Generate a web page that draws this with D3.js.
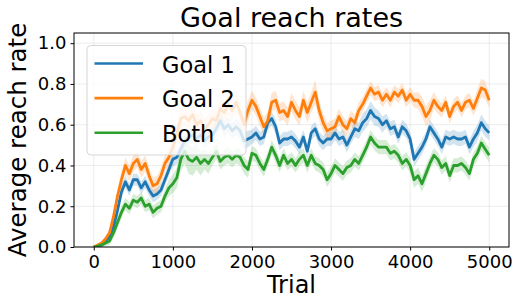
<!DOCTYPE html>
<html>
<head>
<meta charset="utf-8">
<script src="https://cdn.jsdelivr.net/npm/d3@7"></script>
<style>
  body { margin: 0; background: #fff; }
  text { font-family: "DejaVu Sans", sans-serif; fill: #000; }
</style>
</head>
<body>
<div id="chart"></div>
<script>
const width = 514,
  height = 299,
  margin = { top: 33, bottom: 52, left: 74, right: 5 };

// sampled every 50 trials
const trials = d3.range(0, 5001, 50);

const goal1 = [
  0.00, 0.005, 0.01, 0.03, 0.05, 0.10, 0.18, 0.27, 0.32, 0.28,
  0.33, 0.33, 0.29, 0.32, 0.28, 0.25, 0.26, 0.28, 0.33, 0.38,
  0.43, 0.44, 0.48, 0.52, 0.54, 0.55, 0.53, 0.55, 0.52, 0.54,
  0.55, 0.58, 0.62, 0.58, 0.60, 0.57, 0.59, 0.57, 0.52, 0.53,
  0.54, 0.56, 0.53, 0.54, 0.61, 0.63, 0.59, 0.51, 0.53, 0.53,
  0.54, 0.52, 0.49, 0.54, 0.47, 0.56, 0.58, 0.53, 0.51, 0.53,
  0.53, 0.56, 0.53, 0.54, 0.50, 0.54, 0.58, 0.57, 0.61, 0.63,
  0.67, 0.64, 0.63, 0.60, 0.62, 0.58, 0.59, 0.54, 0.59, 0.57,
  0.53, 0.43, 0.46, 0.49, 0.53, 0.59, 0.56, 0.53, 0.49, 0.54,
  0.53, 0.54, 0.53, 0.53, 0.54, 0.49, 0.53, 0.56, 0.61, 0.58,
  0.56
];

const goal2 = [
  0.00, 0.01, 0.02, 0.04, 0.07, 0.15, 0.25, 0.33, 0.40, 0.36,
  0.41, 0.43, 0.38, 0.41, 0.35, 0.30, 0.31, 0.35, 0.41, 0.44,
  0.49, 0.56, 0.63, 0.64, 0.62, 0.65, 0.60, 0.62, 0.58, 0.60,
  0.63, 0.62, 0.68, 0.66, 0.70, 0.67, 0.71, 0.66, 0.60, 0.67,
  0.72, 0.69, 0.64, 0.59, 0.62, 0.71, 0.72, 0.66, 0.67, 0.64,
  0.71, 0.67, 0.64, 0.72, 0.66, 0.71, 0.76, 0.67, 0.61, 0.57,
  0.58, 0.59, 0.64, 0.60, 0.58, 0.63, 0.61, 0.67, 0.70, 0.74,
  0.78, 0.75, 0.76, 0.72, 0.75, 0.72, 0.76, 0.74, 0.77, 0.72,
  0.75, 0.72, 0.72, 0.69, 0.64, 0.67, 0.72, 0.69, 0.67, 0.71,
  0.64, 0.69, 0.71, 0.67, 0.71, 0.72, 0.68, 0.73, 0.78, 0.77,
  0.72
];

const both = [
  0.00, 0.005, 0.01, 0.02, 0.03, 0.07, 0.12, 0.17, 0.21, 0.19,
  0.23, 0.22, 0.24, 0.20, 0.21, 0.17, 0.19, 0.20, 0.25, 0.29,
  0.31, 0.34, 0.43, 0.47, 0.43, 0.42, 0.44, 0.41, 0.43, 0.41,
  0.44, 0.47, 0.42, 0.44, 0.45, 0.43, 0.45, 0.44, 0.40, 0.38,
  0.46, 0.45, 0.41, 0.38, 0.43, 0.49, 0.45, 0.40, 0.45, 0.41,
  0.43, 0.40, 0.43, 0.45, 0.40, 0.45, 0.41, 0.40, 0.38, 0.33,
  0.36, 0.40, 0.38, 0.36, 0.39, 0.40, 0.43, 0.41, 0.45, 0.49,
  0.54, 0.51, 0.49, 0.49, 0.49, 0.46, 0.47, 0.45, 0.41, 0.43,
  0.40, 0.33, 0.35, 0.31, 0.36, 0.41, 0.45, 0.43, 0.39, 0.41,
  0.35, 0.40, 0.40, 0.41, 0.39, 0.36, 0.43, 0.46, 0.51, 0.48,
  0.45
];

// half width of the shaded band
const goal1Spread = [
  0.002, 0.005, 0.01, 0.015, 0.02, 0.025, 0.03, 0.03, 0.03, 0.03,
  0.03, 0.03, 0.03, 0.03, 0.03, 0.03, 0.03, 0.03, 0.03, 0.03,
  0.035, 0.035, 0.035, 0.035, 0.035, 0.035, 0.035, 0.035, 0.035, 0.035,
  0.04, 0.04, 0.04, 0.04, 0.04, 0.04, 0.04, 0.04, 0.04, 0.04,
  0.035, 0.035, 0.035, 0.035, 0.035, 0.035, 0.035, 0.035, 0.035, 0.035,
  0.035, 0.035, 0.035, 0.035, 0.035, 0.035, 0.035, 0.035, 0.035, 0.035,
  0.035, 0.035, 0.035, 0.035, 0.035, 0.035, 0.04, 0.04, 0.045, 0.045,
  0.045, 0.045, 0.04, 0.04, 0.035, 0.035, 0.035, 0.035, 0.035, 0.035,
  0.035, 0.035, 0.035, 0.035, 0.035, 0.035, 0.035, 0.035, 0.035, 0.035,
  0.035, 0.035, 0.035, 0.035, 0.035, 0.035, 0.04, 0.04, 0.04, 0.04,
  0.035
];

const goal2Spread = [
  0.002, 0.005, 0.01, 0.015, 0.02, 0.03, 0.035, 0.04, 0.04, 0.04,
  0.04, 0.04, 0.04, 0.04, 0.04, 0.04, 0.04, 0.04, 0.04, 0.04,
  0.05, 0.05, 0.05, 0.05, 0.05, 0.05, 0.05, 0.05, 0.05, 0.05,
  0.05, 0.05, 0.05, 0.05, 0.05, 0.05, 0.05, 0.05, 0.05, 0.05,
  0.045, 0.045, 0.045, 0.045, 0.045, 0.045, 0.045, 0.045, 0.045, 0.045,
  0.045, 0.045, 0.045, 0.045, 0.05, 0.05, 0.06, 0.05, 0.045, 0.04,
  0.04, 0.04, 0.04, 0.04, 0.04, 0.04, 0.04, 0.04, 0.035, 0.035,
  0.035, 0.035, 0.035, 0.035, 0.035, 0.035, 0.035, 0.035, 0.035, 0.035,
  0.035, 0.035, 0.04, 0.05, 0.05, 0.05, 0.04, 0.035, 0.035, 0.035,
  0.035, 0.035, 0.035, 0.035, 0.035, 0.035, 0.035, 0.045, 0.045, 0.045,
  0.035
];

const bothSpread = [
  0.002, 0.005, 0.01, 0.015, 0.02, 0.025, 0.03, 0.03, 0.03, 0.03,
  0.03, 0.03, 0.03, 0.03, 0.03, 0.03, 0.03, 0.03, 0.035, 0.04,
  0.045, 0.05, 0.06, 0.06, 0.07, 0.07, 0.06, 0.06, 0.05, 0.05,
  0.04, 0.04, 0.04, 0.04, 0.04, 0.04, 0.04, 0.04, 0.04, 0.04,
  0.035, 0.035, 0.035, 0.035, 0.035, 0.035, 0.035, 0.035, 0.035, 0.035,
  0.035, 0.035, 0.035, 0.035, 0.035, 0.035, 0.035, 0.035, 0.035, 0.035,
  0.035, 0.035, 0.035, 0.035, 0.035, 0.035, 0.035, 0.035, 0.035, 0.035,
  0.035, 0.035, 0.035, 0.035, 0.035, 0.035, 0.035, 0.035, 0.035, 0.035,
  0.035, 0.04, 0.04, 0.04, 0.04, 0.035, 0.035, 0.035, 0.035, 0.035,
  0.035, 0.035, 0.035, 0.035, 0.035, 0.035, 0.035, 0.035, 0.035, 0.035,
  0.035
];

const seriesNames = ["Goal 1", "Goal 2", "Both"];
const colors = ["#1f77b4", "#ff7f0e", "#2ca02c"];
const xTicks = [0, 1000, 2000, 3000, 4000, 5000];
const yTicks = [0, 0.2, 0.4, 0.6, 0.8, 1.0];

const series = [
  { name: seriesNames[0], values: goal1, spread: goal1Spread, color: colors[0] },
  { name: seriesNames[1], values: goal2, spread: goal2Spread, color: colors[1] },
  { name: seriesNames[2], values: both, spread: bothSpread, color: colors[2] },
];

const xScale = d3.scaleLinear()
  .domain([-250, 5250])
  .range([margin.left, width - margin.right]);

const yScale = d3.scaleLinear()
  .domain([0, 1.05])
  .range([height - margin.bottom, margin.top]);

const svg = d3.select("#chart")
  .append("svg")
  .attr("width", width)
  .attr("height", height);

svg.append("defs")
  .append("clipPath")
  .attr("id", "plot-clip")
  .append("rect")
  .attr("x", margin.left)
  .attr("y", margin.top)
  .attr("width", width - margin.left - margin.right)
  .attr("height", height - margin.top - margin.bottom);

// grid
const grid = svg.append("g").attr("class", "grid");
grid.selectAll(".gx")
  .data(xTicks)
  .join("line")
  .attr("x1", d => xScale(d))
  .attr("x2", d => xScale(d))
  .attr("y1", margin.top)
  .attr("y2", height - margin.bottom)
  .attr("stroke", "#b0b0b0")
  .attr("stroke-opacity", 0.3)
  .attr("stroke-width", 0.8);
grid.selectAll(".gy")
  .data(yTicks)
  .join("line")
  .attr("x1", margin.left)
  .attr("x2", width - margin.right)
  .attr("y1", d => yScale(d))
  .attr("y2", d => yScale(d))
  .attr("stroke", "#b0b0b0")
  .attr("stroke-opacity", 0.3)
  .attr("stroke-width", 0.8);

// bands and lines
const plot = svg.append("g").attr("clip-path", "url(#plot-clip)");

const area = d3.area()
  .x((d, i) => xScale(trials[i]))
  .y0(d => yScale(d[0] - d[1]))
  .y1(d => yScale(d[0] + d[1]));

const line = d3.line()
  .x((d, i) => xScale(trials[i]))
  .y(d => yScale(d));

series.forEach(s => {
  plot.append("path")
    .datum(s.values.map((v, i) => [v, s.spread[i]]))
    .attr("fill", s.color)
    .attr("fill-opacity", 0.2)
    .attr("d", area);
});

series.forEach(s => {
  plot.append("path")
    .datum(s.values)
    .attr("fill", "none")
    .attr("stroke", s.color)
    .attr("stroke-width", 2.8)
    .attr("stroke-linejoin", "round")
    .attr("d", line);
});

// axes
const xAxis = d3.axisBottom(xScale)
  .tickValues(xTicks)
  .tickFormat(d3.format("d"))
  .tickSizeOuter(0)
  .tickSize(3.5)
  .tickPadding(5);

const yAxis = d3.axisLeft(yScale)
  .tickValues(yTicks)
  .tickFormat(d3.format(".1f"))
  .tickSizeOuter(0)
  .tickSize(3.5)
  .tickPadding(4);

svg.append("g")
  .attr("transform", `translate(0,${height - margin.bottom})`)
  .call(xAxis)
  .call(g => g.select(".domain").remove())
  .call(g => g.selectAll("text").style("font-size", "18px").attr("fill", "#000"));

svg.append("g")
  .attr("transform", `translate(${margin.left},0)`)
  .call(yAxis)
  .call(g => g.select(".domain").remove())
  .call(g => g.selectAll("text").style("font-size", "18px").attr("fill", "#000"));

// frame
svg.append("rect")
  .attr("x", margin.left)
  .attr("y", margin.top)
  .attr("width", width - margin.left - margin.right)
  .attr("height", height - margin.top - margin.bottom)
  .attr("fill", "none")
  .attr("stroke", "#000")
  .attr("stroke-width", 1);

// labels
svg.append("text")
  .attr("x", (margin.left + width - margin.right) / 2)
  .attr("y", 27)
  .attr("text-anchor", "middle")
  .style("font-size", "27px")
  .text("Goal reach rates");

svg.append("text")
  .attr("x", (margin.left + width - margin.right) / 2)
  .attr("y", 293)
  .attr("text-anchor", "middle")
  .style("font-size", "24px")
  .text("Trial");

svg.append("text")
  .attr("transform", `translate(26,${(margin.top + height - margin.bottom) / 2}) rotate(-90)`)
  .attr("text-anchor", "middle")
  .style("font-size", "24.5px")
  .text("Average reach rate");

// legend
const legend = svg.append("g");
legend.append("rect")
  .attr("x", 87)
  .attr("y", 45.5)
  .attr("width", 159)
  .attr("height", 109.5)
  .attr("rx", 4)
  .attr("fill", "#fff")
  .attr("fill-opacity", 0.8)
  .attr("stroke", "#cccccc")
  .attr("stroke-opacity", 0.8)
  .attr("stroke-width", 1);

const item = legend.selectAll(".item")
  .data(series)
  .join("g")
  .attr("class", "item")
  .attr("transform", (d, i) => `translate(0,${63.5 + i * 34.6})`);

item.append("line")
  .attr("x1", 94.5)
  .attr("x2", 143)
  .attr("stroke", d => d.color)
  .attr("stroke-width", 2.6);

item.append("text")
  .attr("x", 162)
  .attr("y", 9)
  .style("font-size", "22.5px")
  .text(d => d.name);
</script>
</body>
</html>
